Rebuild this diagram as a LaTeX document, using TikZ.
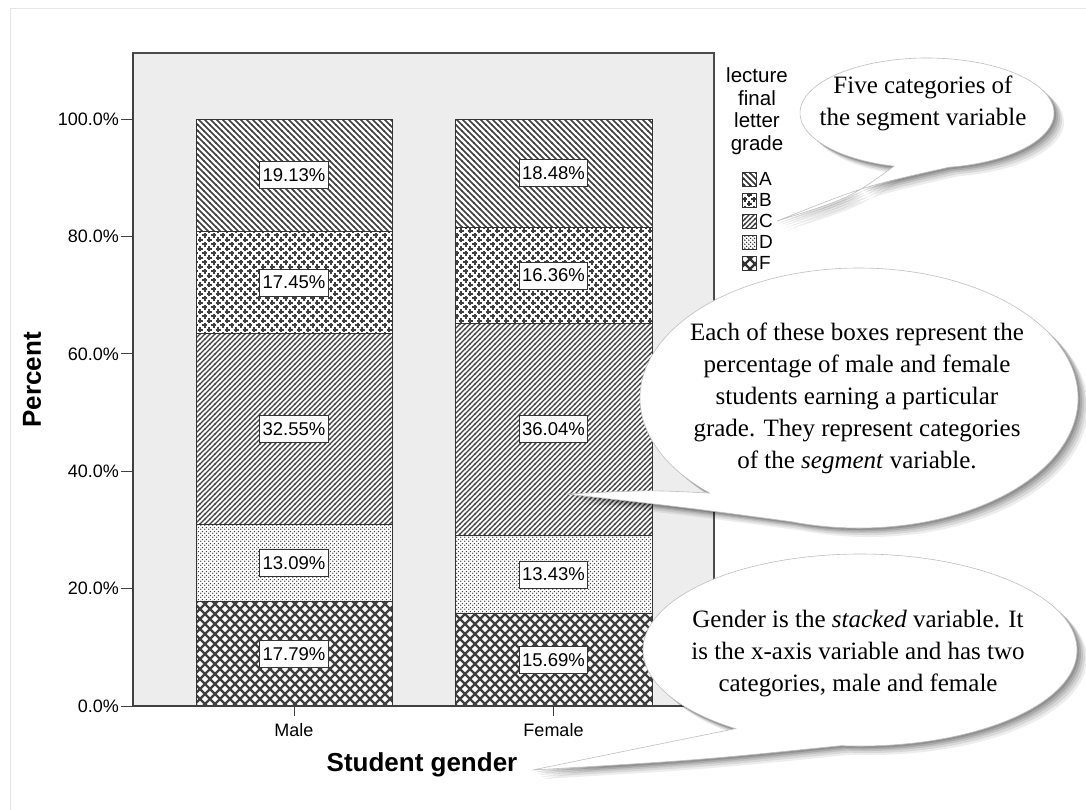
\documentclass[tikz,border=0pt]{standalone}
\usepackage{fontspec}
\setmainfont{Liberation Serif}
\setsansfont{Liberation Sans}
\usetikzlibrary{patterns}

% segment fills, one per letter grade
\pgfdeclarepatternformonly{gradeA}{\pgfqpoint{-1pt}{-1pt}}{\pgfqpoint{7pt}{7pt}}{\pgfqpoint{6pt}{6pt}}{%
  \pgfsetlinewidth{1.6pt}
  \pgfpathmoveto{\pgfqpoint{-0.5pt}{6.5pt}}\pgfpathlineto{\pgfqpoint{6.5pt}{-0.5pt}}
  \pgfusepath{stroke}}
\pgfdeclarepatternformonly{gradeB}{\pgfqpoint{-1pt}{-1pt}}{\pgfqpoint{10pt}{10pt}}{\pgfqpoint{9pt}{9pt}}{%
  \pgfsetlinewidth{1.6pt}
  \pgfpathmoveto{\pgfqpoint{-0.3pt}{2.25pt}}\pgfpathlineto{\pgfqpoint{4.8pt}{2.25pt}}
  \pgfpathmoveto{\pgfqpoint{2.25pt}{-0.3pt}}\pgfpathlineto{\pgfqpoint{2.25pt}{4.8pt}}
  \pgfpathmoveto{\pgfqpoint{4.2pt}{6.75pt}}\pgfpathlineto{\pgfqpoint{9.3pt}{6.75pt}}
  \pgfpathmoveto{\pgfqpoint{6.75pt}{4.2pt}}\pgfpathlineto{\pgfqpoint{6.75pt}{9.3pt}}
  \pgfusepath{stroke}}
\pgfdeclarepatternformonly{gradeC}{\pgfqpoint{-1pt}{-1pt}}{\pgfqpoint{6pt}{6pt}}{\pgfqpoint{5pt}{5pt}}{%
  \pgfsetlinewidth{1.2pt}
  \pgfpathmoveto{\pgfqpoint{-0.5pt}{-0.5pt}}\pgfpathlineto{\pgfqpoint{5.5pt}{5.5pt}}
  \pgfusepath{stroke}}
\pgfdeclarepatternformonly{gradeD}{\pgfqpoint{0pt}{0pt}}{\pgfqpoint{4pt}{4pt}}{\pgfqpoint{4pt}{4pt}}{%
  \pgfpathcircle{\pgfqpoint{1pt}{1pt}}{0.9pt}
  \pgfpathcircle{\pgfqpoint{3pt}{3pt}}{0.9pt}
  \pgfusepath{fill}}
\pgfdeclarepatternformonly{gradeF}{\pgfqpoint{-1pt}{-1pt}}{\pgfqpoint{11pt}{11pt}}{\pgfqpoint{10pt}{10pt}}{%
  \pgfsetlinewidth{2.3pt}
  \pgfpathmoveto{\pgfqpoint{-0.5pt}{-0.5pt}}\pgfpathlineto{\pgfqpoint{10.5pt}{10.5pt}}
  \pgfpathmoveto{\pgfqpoint{-0.5pt}{10.5pt}}\pgfpathlineto{\pgfqpoint{10.5pt}{-0.5pt}}
  \pgfusepath{stroke}}

\begin{document}
\begin{tikzpicture}[x=1pt, y=-1pt,
    seg/.style={draw=black!80, line width=0.9pt, preaction={fill=white}, pattern color=black!75},
    pct/.style={draw=black!80, line width=0.8pt, fill=white, inner xsep=3pt, minimum height=27pt,
      font=\sffamily\fontsize{18.5}{18.5}\selectfont},
    ticklab/.style={anchor=east, inner sep=1pt, font=\sffamily\fontsize{18}{18}\selectfont},
    axtitle/.style={inner sep=0pt, font=\sffamily\bfseries\fontsize{26}{26}\selectfont},
    legtext/.style={anchor=west, inner sep=0pt, font=\sffamily\fontsize{19}{19}\selectfont},
    swatch/.style={draw=black!80, line width=0.7pt, preaction={fill=white}, pattern color=black!80},
    bubble/.style={fill=white, draw=black!25, line width=0.6pt,
      preaction={fill=black, opacity=0.07, transform canvas={shift={(10pt,-9pt)}}},
      preaction={fill=black, opacity=0.09, transform canvas={shift={(8pt,-7pt)}}},
      preaction={fill=black, opacity=0.10, transform canvas={shift={(6pt,-5pt)}}},
      preaction={fill=black, opacity=0.12, transform canvas={shift={(4pt,-3.5pt)}}},
      preaction={fill=black, opacity=0.14, transform canvas={shift={(2pt,-2pt)}}}},
    bubtext/.style={align=center, inner sep=0pt, font=\fontsize{25}{32}\selectfont}
  ]
  \useasboundingbox (0,0) rectangle (1086,809);
  \draw[black!10, line width=1pt] (10,8) rectangle (1090,815);

  % plot area
  \draw[draw=black!70, line width=1.1pt, fill=black!7] (133,53) rectangle (714,706);

  % male bar
  \foreach \lo/\hi/\k/\v in {0/17.79/F/17.79, 17.79/30.88/D/13.09, 30.88/63.43/C/32.55,
      63.43/80.88/B/17.45, 80.88/100/A/19.13} {
    \path[seg, pattern=grade\k] (196,{706-5.87*\lo}) rectangle (392,{706-5.87*\hi});
    \node[pct] (m\k) at (294,{706-2.935*(\lo+\hi)}) {\v\%};
  }
  % female bar
  \foreach \lo/\hi/\k/\v in {0/15.69/F/15.69, 15.69/29.12/D/13.43, 29.12/65.16/C/36.04,
      65.16/81.52/B/16.36, 81.52/100/A/18.48} {
    \path[seg, pattern=grade\k] (455,{706-5.87*\lo}) rectangle (652,{706-5.87*\hi});
    \node[pct] (f\k) at (553.5,{706-2.935*(\lo+\hi)}) {\v\%};
  }

  % axes
  \draw[black!75, line width=1.1pt] (133,53) -- (133,706) -- (714,706);
  \foreach \p in {0,20,...,100} {
    \draw[black!75, line width=1pt] (121,{706-5.87*\p}) -- (133,{706-5.87*\p});
    \node[ticklab] (y\p) at (120,{706-5.87*\p}) {\p.0\%};
  }
  \draw[black!75, line width=1pt] (294,706) -- (294,716);
  \draw[black!75, line width=1pt] (553.5,706) -- (553.5,716);
  \node[font=\sffamily\fontsize{18}{18}\selectfont] (male) at (294,730) {Male};
  \node[font=\sffamily\fontsize{18}{18}\selectfont] (female) at (553.5,730) {Female};
  \node[axtitle] (xlab) at (422,765) {Student gender};
  \node[axtitle, rotate=90] (ylab) at (32,380) {Percent};

  % legend
  \node[align=center, inner sep=0pt, font=\sffamily\fontsize{20.5}{22.5}\selectfont] (legtitle)
    at (757,111) {lecture\\final\\letter\\grade};
  \foreach \k/\yy in {A/179, B/200, C/221, D/242, F/263} {
    \path[swatch, pattern=grade\k] (742,\yy-7) rectangle (756,\yy+7);
    \node[legtext] (leg\k) at (759,\yy) {\k};
  }

  % callouts
  \coordinate (segtip) at (567,494);
  \path[bubble] (927,113) ++(105:127 and 55) coordinate (b1)
    arc[start angle=105, end angle=440, x radius=127, y radius=55]
    .. controls (865,186) .. ([xshift=4pt]legC.east) .. controls (850,198) .. (b1) -- cycle;
  \node[bubtext] (noteA) at (923,103) {Five categories of\\the segment variable};

  \path[bubble] (859,398) ++(133:219 and 130) coordinate (b2)
    arc[start angle=133, end angle=468, x radius=219, y radius=130]
    .. controls (690,508) .. (segtip) .. controls (650,490) .. (b2) -- cycle;
  \node[bubtext] (noteB) at (857,398) {Each of these boxes represent the\\percentage of male and female\\
    students earning a particular\\grade. They represent categories\\of the \textit{segment} variable.};

  \path[bubble] (860,650) ++(125:217 and 96) coordinate (b3)
    arc[start angle=125, end angle=455, x radius=217, y radius=96]
    .. controls (700,760) .. ([xshift=15pt,yshift=-5pt]xlab.east) .. controls (640,748) .. (b3) -- cycle;
  \node[bubtext] (noteC) at (858,654) {Gender is the \textit{stacked} variable. It\\
    is the x-axis variable and has two\\categories, male and female};
\end{tikzpicture}
\end{document}
